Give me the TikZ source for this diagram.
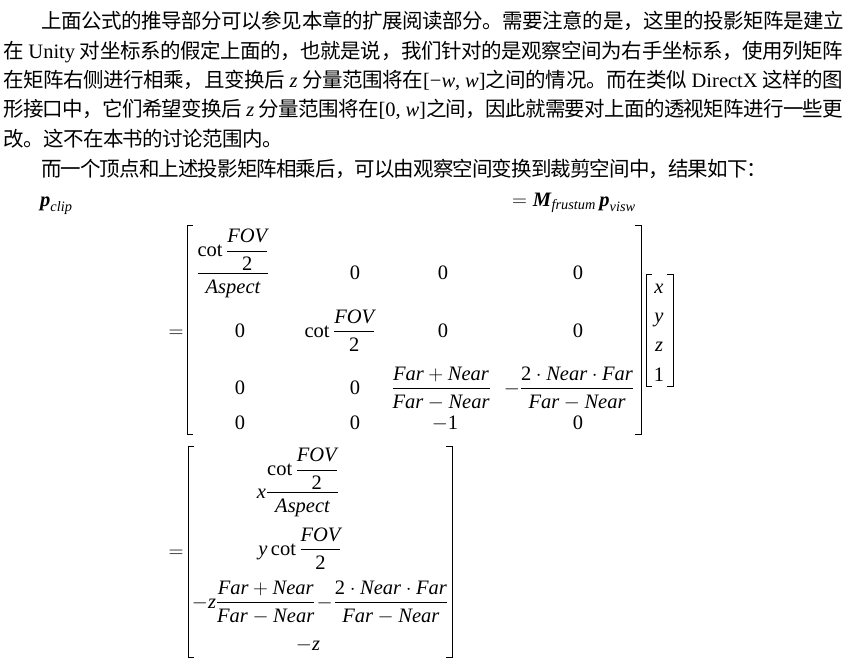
\documentclass[tikz,border=0pt]{standalone}
\usepackage{amsmath}
\usepackage{fontspec}
\setmainfont{Liberation Serif}
\newfontfamily\cjk{Noto Sans CJK SC}
% glue between Chinese characters, so that each line can be set to its width
\newcount\hanc
\hanc="4E00
\loop\XeTeXcharclass\hanc=101 \advance\hanc by 1 \ifnum\hanc<"A000 \repeat
\XeTeXcharclass"FF0C=102 \XeTeXcharclass"3002=102 \XeTeXcharclass"FF1A=102
\XeTeXinterchartokenstate=1
\XeTeXinterchartoks 101 101 = {\hskip 0pt plus 2pt minus 2pt}
\XeTeXinterchartoks 101 102 = {\hskip 0pt plus 2pt minus 2pt}
\XeTeXinterchartoks 102 101 = {\hskip 0pt plus 2pt minus 2pt}
\newcommand\bodysize{\fontsize{20.5bp}{30bp}\selectfont}
\newcommand\lat[1]{{\rmfamily#1}}
\newcommand\vr[1]{\textit{#1}}
\newcommand\nm[1]{\textup{#1}}
\tikzset{textline/.style={anchor=base west,inner sep=0pt,font=\cjk\bodysize},
         entry/.style={anchor=base,inner sep=0pt,font=\bodysize},
         brk/.style={line width=0.9pt},
        }

\begin{document}
\begin{tikzpicture}[x=1bp,y=-1bp]
        \useasboundingbox(0,0)rectangle(868,670);

        % paragraph lines
        \node[textline](l1)at(41,29){\makebox[803bp][s]{上面公式的推导部分可以参见本章的扩展阅读部分。需要注意的是，这里的投影矩阵是建立}};
        \node[textline](l2)at(3,58.5){\makebox[840bp][s]{在\lat{ Unity }对坐标系的假定上面的，也就是说，我们针对的是观察空间为右手坐标系，使用列矩阵}};
        \node[textline](l3)at(3,88){\makebox[840bp][s]{在矩阵右侧进行相乘，且变换后\lat{ \textit{z} }分量范围将在\lat{[−\textit{w}, \textit{w}]}之间的情况。而在类似\lat{ DirectX }这样的图}};
        \node[textline](l4)at(3,117){\makebox[840bp][s]{形接口中，它们希望变换后\lat{ \textit{z} }分量范围将在\lat{[0, \textit{w}]}之间，因此就需要对上面的透视矩阵进行一些更}};
        \node[textline](l5)at(3,146.5){\makebox[280bp][s]{改。这不在本书的讨论范围内。}};
        \node[textline](l6)at(41,176){\makebox[726bp][s]{而一个顶点和上述投影矩阵相乘后，可以由观察空间变换到裁剪空间中，结果如下：}};

        \node[entry,anchor=base west](pclip)at(40,206){$\textbf{\textit{p}}_{\vr{clip}}$};
        \node[entry,anchor=base west](mp)at(512,206){$=\textbf{\textit{M}}_{\vr{frustum}}\,\textbf{\textit{p}}_{\vr{visw}}$};

        % projection matrix times vertex
        \node[entry](eqA)at(176,337){$=$};
        \node[entry](m11)at(233,279){$\dfrac{\cot\dfrac{\vr{FOV}}{\nm{2}}}{\vr{Aspect}}$};
        \node[entry](m22)at(340,337){$\cot\dfrac{\vr{FOV}}{\nm{2}}$};
        \node[entry](m33)at(441,394){$\dfrac{\vr{Far}+\vr{Near}}{\vr{Far}-\vr{Near}}$};
        \node[entry](m34)at(569,394){$-\dfrac{\nm{2}\cdot\vr{Near}\cdot\vr{Far}}{\vr{Far}-\vr{Near}}$};
        \node[entry](m43)at(445,429){$-\nm{1}$};
        \foreach \n/\x/\y in {m12/355/279,m13/443/279,m14/578/279,
                              m21/240/337,m23/443/337,m24/578/337,
                              m31/240/394,m32/355/394,
                              m41/240/429,m42/355/429,m44/578/429}
            \node[entry](\n)at(\x,\y){0};

        \node[entry](vx)at(659,293){\vr{x}};
        \node[entry](vy)at(659,322){\vr{y}};
        \node[entry](vz)at(659,351){\vr{z}};
        \node[entry](v1)at(659,381){1};

        % result vector
        \node[entry](eqB)at(176,557){$=$};
        \node[entry](r1)at(298,498){$\vr{x}\dfrac{\cot\dfrac{\vr{FOV}}{\nm{2}}}{\vr{Aspect}}$};
        \node[entry](r2)at(300,555){$\vr{y}\cot\dfrac{\vr{FOV}}{\nm{2}}$};
        \node[entry](r3)at(320,608){$-\vr{z}\dfrac{\vr{Far}+\vr{Near}}{\vr{Far}-\vr{Near}}\mskip-3mu-\mskip-3mu\dfrac{\nm{2}\cdot\vr{Near}\cdot\vr{Far}}{\vr{Far}-\vr{Near}}$};
        \node[entry](r4)at(308,650){$-\vr{z}$};

        % brackets
        \foreach \l/\r/\t/\b in {187/641/225/434,646/673/274/386,188/452/446/657}{
            \draw[brk](\l+6,\t)-|(\l,\b)--++(6,0);
            \draw[brk](\r-6,\t)-|(\r,\b)--++(-6,0);
        }
    \end{tikzpicture}
\end{document}
